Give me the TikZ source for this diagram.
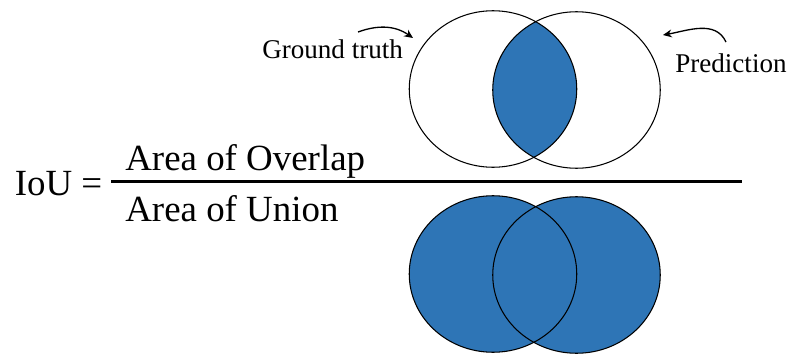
\documentclass[tikz,border=0pt]{standalone}
\usepackage{fontspec}
\setmainfont{Liberation Serif}
\usetikzlibrary{arrows.meta}
\definecolor{ioublue}{RGB}{46,117,182}

\begin{document}
\begin{tikzpicture}[>={Stealth[length=5pt,width=4.5pt]},
  lbl/.style={inner sep=0pt,anchor=base west,font=\fontsize{15.4}{18}\selectfont},
  eqtext/.style={inner sep=0pt,anchor=base west,font=\fontsize{21}{25}\selectfont},
  ring/.style={draw=black,line width=0.6pt}]
  \useasboundingbox (0,0) rectangle (15.78,7.12);
  % centres: ground truth (g) and prediction (p), top and bottom
  \coordinate (g1) at (9.86,5.34); \coordinate (p1) at (11.53,5.32);
  \coordinate (g2) at (9.86,1.64); \coordinate (p2) at (11.53,1.62);
  % overlap
  \begin{scope}
    \clip (g1) ellipse (1.675 and 1.565);
    \fill[ioublue] (p1) ellipse (1.675 and 1.565);
  \end{scope}
  % union
  \fill[ioublue] (g2) ellipse (1.675 and 1.565) (p2) ellipse (1.675 and 1.565);
  \foreach \c in {g1,p1,g2,p2}
    \draw[ring] (\c) ellipse (1.675 and 1.565);
  % formula
  \node[eqtext] (iou) at (0.29,3.22) {IoU =};
  \node[eqtext] (overlap) at (2.50,3.72) {Area of Overlap};
  \node[eqtext] (union) at (2.50,2.70) {Area of Union};
  \coordinate (barL) at (2.22,3.49); \coordinate (barR) at (14.84,3.49);
  \draw[line width=1.4pt] (barL) -- (barR);
  % labels
  \node[lbl] (gt) at (5.24,5.96) {Ground truth};
  \node[lbl] (pred) at (13.50,5.68) {Prediction};
  \coordinate (gtS) at (7.16,6.48); \coordinate (gtE) at (8.26,6.36);
  \coordinate (prS) at (14.52,6.28); \coordinate (prE) at (13.26,6.42);
  \draw[->,line width=0.75pt] (gtS) to[out=20,in=145] (gtE);
  \draw[->,line width=0.75pt] (prS) to[out=115,in=10] (prE);
\end{tikzpicture}
\end{document}
